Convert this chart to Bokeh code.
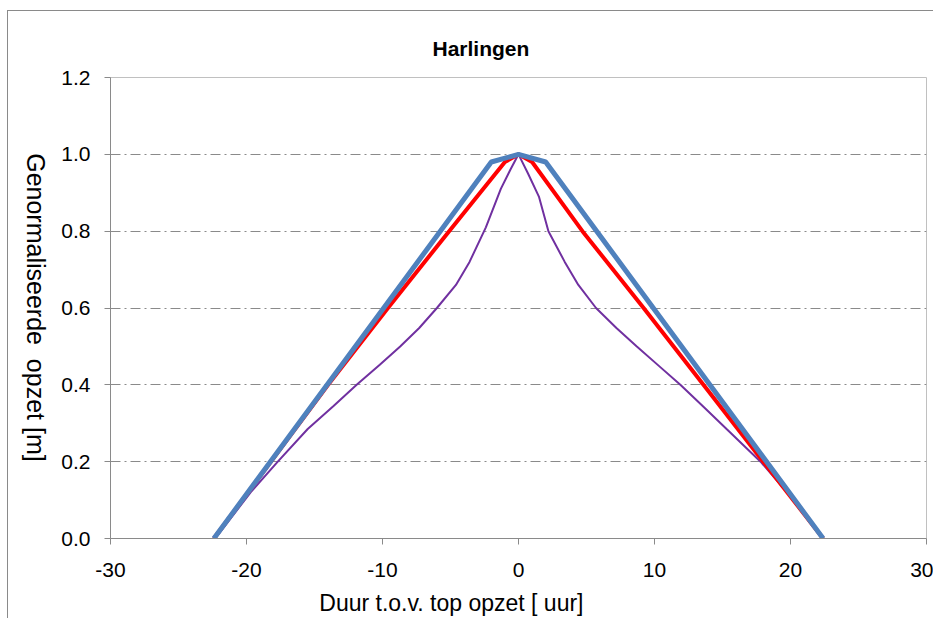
import math
from bokeh.plotting import figure
from bokeh.models import FixedTicker, NumeralTickFormatter, Range1d, Title, LinearAxis
from bokeh.embed import file_html
from bokeh.resources import INLINE

# ---- data ----
blue_x = [-22.4, -2.0, 0.0, 2.0, 22.4]
blue_y = [0.0, 0.98, 1.0, 0.98, 0.0]

red_x = [-22.4, -18.2, -14.0, -9.6, -5.1, -1.0, 0.0, 1.0, 4.7, 9.2, 13.6, 18.0, 22.4]
red_y = [0.0, 0.2, 0.4, 0.6, 0.8, 0.98, 1.0, 0.98, 0.8, 0.6, 0.4, 0.2, 0.0]

purple_x = [-22.3, -19.7, -17.7, -15.5, -13.6, -11.9, -10.2, -8.7, -7.3, -6.0, -4.6, -3.6,
            -2.4, -1.3, -0.6, 0.0,
            0.7, 1.5, 2.2, 3.4, 4.4, 5.7, 7.2, 8.7, 10.3, 11.9, 13.6, 15.3, 17.8, 19.75, 22.4]
purple_y = [0.0, 0.12, 0.2, 0.285, 0.345, 0.4, 0.452, 0.5, 0.548, 0.6, 0.66, 0.72,
            0.81, 0.91, 0.96, 1.0,
            0.95, 0.89, 0.8, 0.72, 0.66, 0.6, 0.548, 0.5, 0.45, 0.4, 0.343, 0.285, 0.2, 0.12, 0.0]

x_ticks = [-30, -20, -10, 0, 10, 20, 30]
y_ticks = [0.0, 0.2, 0.4, 0.6, 0.8, 1.0, 1.2]

title_text = "Harlingen"
x_label = "Duur t.o.v. top opzet [ uur]"
y_label = "Genormaliseerde\u00a0 opzet [m]"
y_label_end = 0.2   # where the rotated y label ends (bottom of text)

FONT = "Liberation Sans"
GREY = "#8a8a8a"

p = figure(width=933, height=618, output_backend="svg", toolbar_location=None,
           x_range=Range1d(-30, 30), y_range=Range1d(0, 1.2),
           min_border_left=110, min_border_right=7, min_border_top=77,
           min_border_bottom=78, title=None)
p.border_fill_alpha = 0
p.styles = {
    "background": (f"linear-gradient({GREY},{GREY}) 7px 10px / 1px 100% no-repeat, "
                   f"linear-gradient({GREY},{GREY}) 7px 10px / 100% 1px no-repeat, #ffffff"),
}

p.add_layout(Title(text=title_text, align="left", offset=322, text_font=FONT,
                   text_font_size="21px", text_font_style="bold",
                   text_color="#000000", standoff=35), "above")

p.outline_line_color = "#c0c0c0"
p.outline_line_width = 1
p.xgrid.visible = False
p.ygrid.grid_line_color = GREY
p.ygrid.grid_line_dash = "10 4 2 4"
p.ygrid.grid_line_width = 1

for ax in (p.xaxis[0], p.yaxis[0]):
    ax.axis_line_color = GREY
    ax.major_tick_line_color = GREY
    ax.major_tick_out = 6
    ax.major_tick_in = 0
    ax.minor_tick_line_color = None
    ax.major_label_text_font = FONT
    ax.major_label_text_font_size = "21px"
    ax.major_label_text_color = "#000000"
    ax.axis_label_text_font = FONT
    ax.axis_label_text_font_style = "normal"
    ax.axis_label_text_color = "#000000"

p.xaxis.ticker = FixedTicker(ticks=x_ticks)
p.xaxis.major_label_overrides = {t: str(t) for t in x_ticks}
p.yaxis.ticker = FixedTicker(ticks=y_ticks)
p.yaxis.formatter = NumeralTickFormatter(format="0.0")
p.xaxis.major_label_standoff = 18
p.yaxis.major_label_standoff = 14

p.xaxis.axis_label = x_label + "\u00a0" * 21
p.xaxis.axis_label_text_font_size = "23px"
p.xaxis.axis_label_standoff = 10

# y-axis title, reading top-to-bottom, drawn as a rotated tick label of a bare axis
label_axis = LinearAxis(ticker=FixedTicker(ticks=[y_label_end]),
                        major_label_overrides={y_label_end: y_label},
                        major_label_orientation=-math.pi / 2,
                        major_label_text_font=FONT,
                        major_label_text_font_size="25px",
                        major_label_text_color="#000000",
                        major_label_standoff=17,
                        axis_line_color=None, major_tick_line_color=None,
                        minor_tick_line_color=None)
p.add_layout(label_axis, "left")

p.line(purple_x, purple_y, line_color="#7030A0", line_width=2)
p.line(red_x, red_y, line_color="#FF0000", line_width=4)
p.line(blue_x, blue_y, line_color="#4F81BD", line_width=5)

open("out.html", "w").write(file_html(p, INLINE))
